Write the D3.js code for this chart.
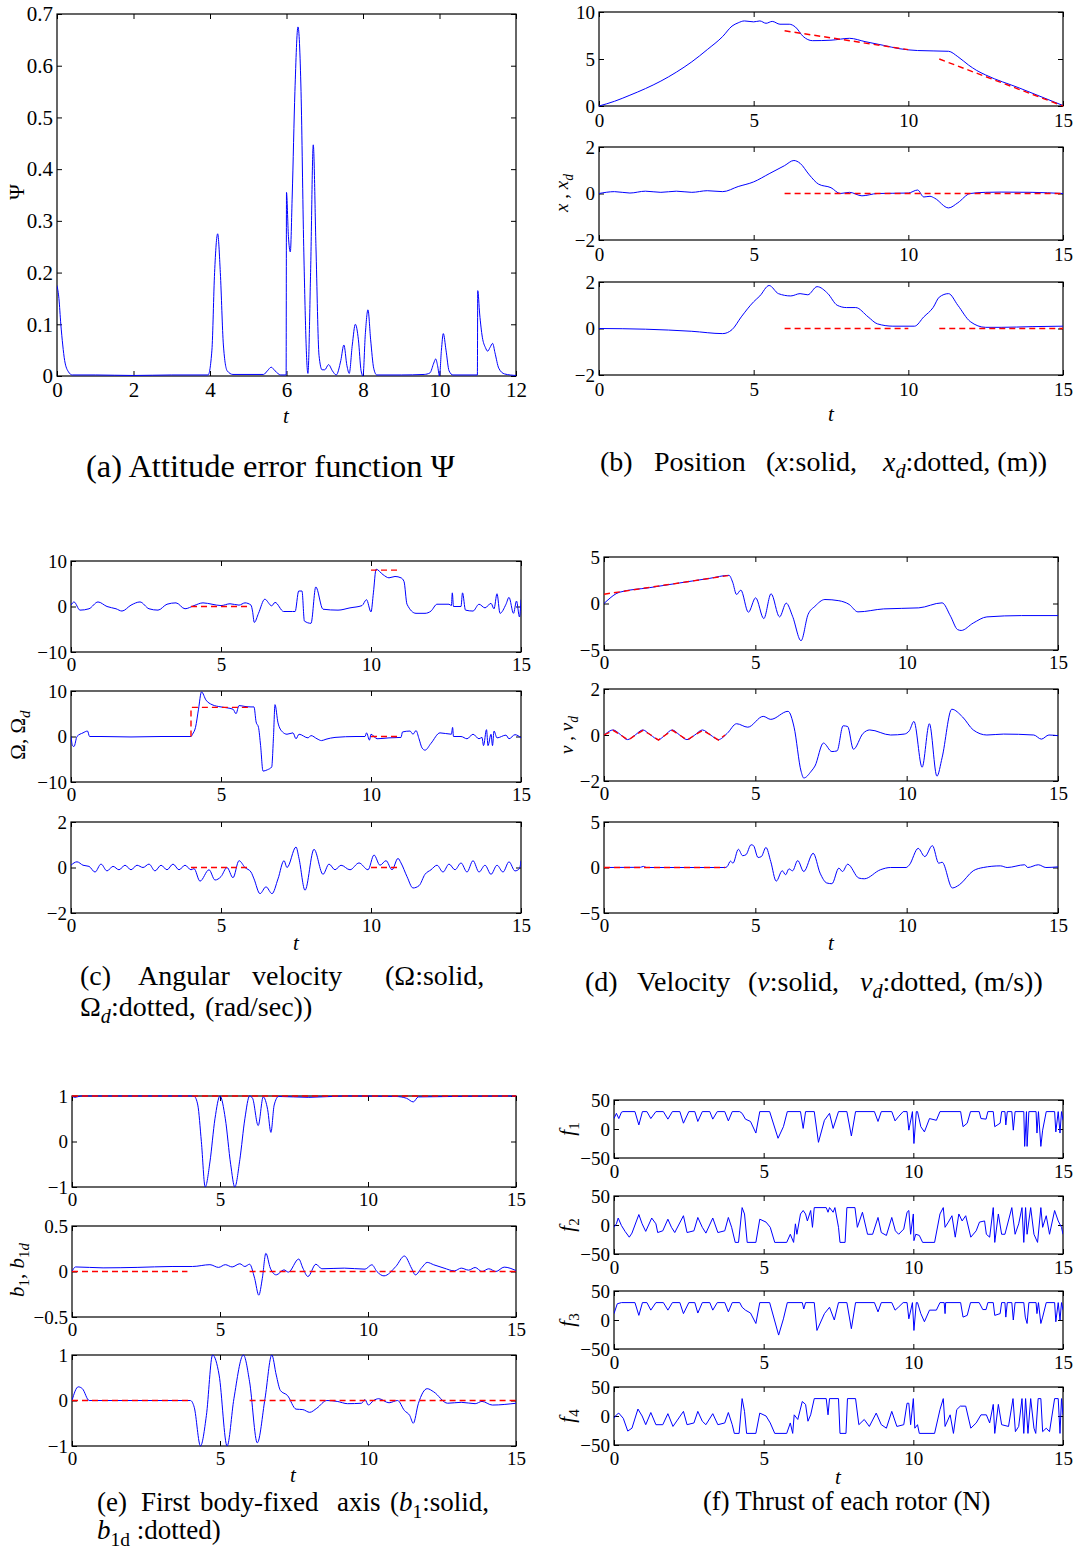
<!DOCTYPE html>
<html>
<head>
<meta charset="utf-8">
<script src="https://cdn.jsdelivr.net/npm/d3@7"></script>
<style>
  body { margin: 0; background: #fff; }
  svg { display: block; font-family: "Liberation Serif", "Times New Roman", serif; }
</style>
</head>
<body>
<script>
// ---------- tick labels ----------
const tTicks12 = [0, 2, 4, 6, 8, 10, 12];
const tTicks15 = [0, 5, 10, 15];
const psiTicks = [0, 0.1, 0.2, 0.3, 0.4, 0.5, 0.6, 0.7];
const posTicks = [0, 5, 10];
const unitTicks2 = [-2, 0, 2];
const omTicks = [-10, 0, 10];
const velTicks = [-5, 0, 5];
const oneTicks = [-1, 0, 1];
const halfTicks = [-0.5, 0, 0.5];
const thrustTicks = [-50, 0, 50];

// ---------- (a) attitude error ----------
const psi = [[0,0.175],[0.05,0.15],[0.1,0.1],[0.15,0.06],[0.2,0.03],[0.3,0.008],[0.4,0.002],[1,0.002],[2,0.001],[3,0.002],[3.95,0.002],[4.05,0.05],[4.12,0.2],[4.2,0.275],[4.27,0.2],[4.35,0.06],[4.45,0.01],[4.6,0.003],[5.4,0.003],[5.5,0.01],[5.6,0.017],[5.7,0.01],[5.85,0.002],[5.99,0.002],[6.0,0.355],[6.05,0.27],[6.1,0.24],[6.15,0.35],[6.22,0.55],[6.3,0.675],[6.38,0.55],[6.45,0.25],[6.56,0.005],[6.63,0.2],[6.7,0.447],[6.77,0.25],[6.85,0.04],[6.93,0.012],[7.0,0.012],[7.1,0.022],[7.2,0.01],[7.3,0.002],[7.42,0.03],[7.5,0.06],[7.58,0.02],[7.64,0.005],[7.72,0.06],[7.8,0.1],[7.88,0.07],[7.95,0.01],[8.0,0.0],[8.06,0.08],[8.13,0.128],[8.2,0.07],[8.28,0.015],[8.36,0.002],[9,0.002],[9.6,0.003],[9.75,0.006],[9.85,0.025],[9.9,0.033],[9.95,0.02],[10.0,0.0],[10.05,0.05],[10.1,0.082],[10.17,0.05],[10.25,0.01],[10.35,0.002],[10.99,0.002],[11.0,0.165],[11.05,0.12],[11.12,0.075],[11.2,0.055],[11.26,0.048],[11.32,0.055],[11.39,0.063],[11.45,0.045],[11.55,0.015],[11.7,0.004],[12,0.001]];

// ---------- (b) position ----------
const posX = [[0,0],[0.5,0.5],[1,1.15],[1.5,1.85],[2,2.65],[2.5,3.6],[3,4.7],[3.5,6.0],[4,7.4],[4.3,8.5],[4.5,8.85],[4.7,9.05],[5.0,8.95],[5.2,9.05],[5.4,8.8],[5.6,9.0],[5.85,8.7],[6.15,8.7],[6.35,8.4],[6.6,7.4],[6.9,6.95],[7.5,7.0],[8.1,7.2],[8.6,6.85],[9.2,6.45],[9.7,6.1],[10.3,5.9],[11.3,5.82],[11.6,5.25],[11.95,4.35],[12.2,3.8],[12.5,3.3],[13.6,1.9],[15,0.05]];
const posXdA = [[6,8],[10,6]];
const posXdB = [[11,5],[15,0]];
const posY = [[0,0],[0.5,0.08],[1,0.02],[1.5,0.1],[2,0.05],[2.5,0.1],[3,0.05],[3.5,0.12],[4,0.08],[4.5,0.3],[5,0.5],[5.5,0.85],[6,1.2],[6.3,1.42],[6.5,1.3],[6.8,0.8],[7.1,0.4],[7.5,0.25],[7.8,0.0],[8.1,0.05],[8.5,-0.1],[9,0.0],[10,0.02],[10.3,0.15],[10.5,-0.15],[10.7,-0.12],[10.85,-0.2],[11.3,-0.62],[11.6,-0.4],[12,0.0],[12.5,0.05],[13,0.06],[14,0.05],[15,0.0]];
const posYd = [[6,0],[15,0]];
const posZ = [[0,0],[1.5,-0.03],[3,-0.12],[4,-0.22],[4.3,-0.05],[4.6,0.5],[5,1.15],[5.2,1.4],[5.5,1.85],[5.8,1.5],[6.2,1.4],[6.5,1.5],[6.75,1.45],[7.05,1.8],[7.4,1.5],[7.7,1.0],[8.0,0.9],[8.3,0.9],[8.7,0.5],[9.0,0.2],[9.5,0.1],[10.2,0.1],[10.5,0.5],[10.8,0.9],[11.0,1.35],[11.3,1.5],[11.6,1.0],[12.0,0.3],[12.5,0.05],[13,0.05],[14,0.08],[15,0.1]];
const posZdA = [[6,0],[10,0]];
const posZdB = [[11,0],[15,0]];

// ---------- (c) angular velocity ----------
const om1 = [[0,0.3],[0.1,1],[0.3,-0.8],[0.6,-0.5],[0.9,1.0],[1.2,0],[1.5,-0.5],[1.7,-1.0],[2,0.3],[2.3,1.0],[2.6,-0.5],[2.9,-0.8],[3.2,0.5],[3.5,0.8],[3.8,-0.5],[4.1,0.2],[4.4,0.8],[4.7,0.5],[5,0.2],[5.3,0.6],[5.6,0.3],[5.8,0.8],[6.0,0.3],[6.05,-1],[6.11,-3.5],[6.25,-1.5],[6.46,1.6],[6.69,0.15],[6.8,0.9],[7.09,-1.1],[7.38,-1.1],[7.47,-1.1],[7.59,3.4],[7.7,3.4],[7.78,-3.2],[8.0,-3.7],[8.16,4.3],[8.4,-0.6],[8.9,-0.8],[9.3,-0.3],[9.7,0.2],[9.85,1.5],[10.0,-1.2],[10.08,3],[10.17,8.2],[10.4,7.0],[10.6,6.3],[10.8,6.6],[11.0,6.3],[11.1,5.5],[11.2,0.5],[11.5,-1.5],[11.8,-1.5],[12.0,-1.0],[12.2,0.5],[12.6,0.5],[12.68,0.2],[12.71,3],[12.75,0],[13,0],[13.05,3],[13.15,-0.8],[13.4,-1],[13.6,0.5],[13.8,-0.3],[14.0,0.7],[14.1,-0.5],[14.2,2.8],[14.3,-1.5],[14.5,0.5],[14.6,2],[14.75,-1.5],[14.85,1.2],[14.95,-2.3],[15,1.5]];
const om1dA = [[4,0],[6,0]];
const om1dB = [[10,8],[11,8]];
const om2 = [[0,0],[0.05,-2],[0.1,-2.2],[0.2,0],[0.4,0.8],[0.55,1.2],[0.62,0],[1,0],[2,-0.1],[3,0],[4,0],[4.05,0.5],[4.15,2],[4.25,6],[4.35,9.8],[4.5,8],[4.7,7],[5,6.5],[5.2,6.3],[5.4,6.0],[5.5,5.0],[5.6,6.8],[5.8,6.6],[6.0,6.5],[6.1,6.5],[6.17,3.2],[6.25,2],[6.32,-2],[6.4,-7.6],[6.55,-7.3],[6.69,-6.7],[6.75,0],[6.8,7.0],[6.9,3],[7.05,1],[7.2,0.5],[7.4,0.8],[7.5,-0.5],[7.6,0.5],[7.9,-0.3],[8.0,0.2],[8.2,-0.5],[8.35,-0.9],[8.5,-0.6],[8.8,-0.2],[9.5,0],[9.8,0],[9.85,0.8],[9.95,-0.8],[10,0.5],[10.2,-0.5],[10.6,-0.3],[11,-0.2],[11.05,1.0],[11.3,1.2],[11.4,0.5],[11.5,1.3],[11.6,-0.5],[11.7,-2.5],[11.8,-3],[12,-1.5],[12.3,0.8],[12.68,0.5],[12.72,2],[12.75,0],[13,0],[13.2,-0.5],[13.4,0.5],[13.6,-0.5],[13.7,-0.2],[13.75,-2],[13.85,1.5],[13.9,-2],[14,0.5],[14.05,-2],[14.1,1.2],[14.2,-0.3],[14.5,0.3],[14.6,-0.5],[14.8,0.4],[15,-0.3]];
const om2dA = [[4,0],[4,6.4],[6,6.4]];
const om2dB = [[10,0],[11,0]];
const om3 = [[0,0.1],[0.2,0.25],[0.4,0.1],[0.6,0.05],[0.8,-0.2],[1.0,0.15],[1.2,-0.15],[1.4,0.05],[1.6,-0.1],[1.8,0.1],[2.0,-0.1],[2.2,0.1],[2.4,0.0],[2.6,0.15],[2.8,-0.15],[3.0,0.1],[3.2,-0.1],[3.4,0.15],[3.6,-0.1],[3.8,0.1],[4.0,-0.1],[4.1,-0.05],[4.3,-0.6],[4.6,-0.1],[4.8,-0.55],[5.0,-0.4],[5.2,0.0],[5.4,-0.45],[5.6,0.3],[5.8,0.0],[6.0,-0.2],[6.1,-0.5],[6.3,-1.15],[6.5,-0.85],[6.7,-1.15],[6.9,-0.5],[7.1,0.3],[7.2,0.0],[7.5,0.9],[7.6,0.4],[7.8,-1.0],[8.1,0.8],[8.4,-0.3],[8.6,0.15],[8.8,-0.1],[9.0,0.1],[9.3,-0.1],[9.6,0.2],[9.9,-0.1],[10.1,0.55],[10.3,0.1],[10.5,0.3],[10.7,-0.1],[10.9,0.4],[11.0,0.2],[11.2,-0.4],[11.4,-0.9],[11.6,-0.8],[11.8,-0.3],[12.0,-0.1],[12.2,0.1],[12.4,-0.2],[12.6,0.15],[12.8,-0.1],[13.0,0.2],[13.2,-0.2],[13.4,0.3],[13.6,-0.2],[13.8,0.1],[14.0,-0.3],[14.2,0.1],[14.4,-0.2],[14.6,0.25],[14.8,-0.15],[14.95,-0.05],[15,0.3]];
const om3dA = [[4,0],[6,0]];
const om3dB = [[10,0],[11,0]];

// ---------- (d) velocity ----------
const vel1 = [[0,0],[0.1,0.3],[0.5,1.2],[1.5,1.7],[2.5,2.21],[3.5,2.71],[4.13,3.03],[4.25,2.3],[4.38,0.97],[4.52,1.44],[4.77,-0.94],[5.01,0.61],[5.28,-1.62],[5.52,1.05],[5.8,-1.44],[6.02,0.04],[6.23,-1.37],[6.51,-4.0],[6.74,-1.2],[6.97,-0.3],[7.3,0.43],[7.76,0.3],[8.1,-0.1],[8.39,-0.9],[9.24,-0.58],[10.4,-0.47],[11.17,0.07],[11.45,-1.37],[11.68,-2.8],[11.8,-2.9],[12.2,-2.1],[12.65,-1.44],[13.8,-1.3],[15,-1.3]];
const vel1d = [[0,1.0],[4.1,3.0]];
const vel2 = [[0,0],[0.05,0.05],[0.3,0.22],[0.55,0.01],[0.78,-0.2],[1.03,0],[1.28,0.22],[1.54,0],[1.8,-0.2],[2.02,0],[2.25,0.22],[2.5,0],[2.74,-0.2],[3.0,0],[3.25,0.22],[3.52,0],[3.78,-0.2],[4.07,0.07],[4.38,0.49],[4.75,0.34],[5.26,0.81],[5.51,0.68],[6.08,1.03],[6.28,0.34],[6.51,-1.57],[6.6,-1.87],[6.85,-1.57],[6.97,-1.35],[7.25,-0.35],[7.53,-0.72],[7.7,-0.69],[7.9,0.4],[8.05,0.37],[8.24,-0.62],[8.56,0.07],[8.78,0.22],[9.47,0],[9.92,0.04],[10.09,0.19],[10.24,0.59],[10.51,-1.4],[10.75,0.49],[11.0,-1.79],[11.17,-0.99],[11.49,1.12],[11.85,0.78],[12.2,0.22],[12.65,0],[13.2,0.04],[14.2,0.0],[14.45,-0.18],[14.7,0],[15,-0.03]];
const vel2d = [[0,0],[0.3,0.2],[0.55,0],[0.8,-0.22],[1.04,0],[1.29,0.2],[1.55,0],[1.8,-0.22],[2.03,0],[2.26,0.2],[2.5,0],[2.75,-0.22],[3.0,0],[3.26,0.2],[3.52,0],[3.78,-0.22],[4.0,0]];
const vel3 = [[0,0],[1.2,0.02],[1.3,0.12],[1.4,0.0],[4.0,0.0],[4.07,0.1],[4.18,0.7],[4.26,0.47],[4.44,2.0],[4.58,1.3],[4.69,1.4],[4.86,2.5],[4.94,2.4],[5.09,1.1],[5.2,1.2],[5.35,2.2],[5.51,0.65],[5.69,-1.5],[5.89,-0.36],[6.0,-0.8],[6.11,-0.15],[6.23,-0.36],[6.4,0.76],[6.6,-0.44],[6.91,1.56],[7.14,-0.62],[7.36,-1.7],[7.53,-1.78],[7.76,-0.07],[7.88,-0.44],[8.05,0.36],[8.42,-1.16],[8.6,-1.24],[9.13,-0.25],[9.47,0],[9.98,0],[10.09,0.29],[10.38,2.1],[10.6,1.2],[10.85,2.4],[11.06,0.47],[11.17,0.58],[11.51,-2.25],[11.74,-1.9],[12.2,-0.36],[12.53,0],[13.1,0.18],[13.32,0],[13.9,0.3],[14.0,0],[14.35,0.3],[14.6,0],[15,0.07]];
const vel3d = [[0,0],[4,0]];

// ---------- (e) first body-fixed axis ----------
const b1x = [[0,1],[0.1,0.97],[0.3,1],[4.0,1],[4.13,0.99],[4.25,0.8],[4.37,0.0],[4.5,-1.0],[4.66,-0.45],[4.83,0.5],[5.0,1.0],[5.18,0.5],[5.36,-0.5],[5.5,-1.0],[5.67,-0.4],[5.84,0.5],[6.0,1.0],[6.1,0.95],[6.29,0.35],[6.46,0.98],[6.61,0.7],[6.72,0.2],[6.83,0.8],[6.98,0.99],[8.0,0.97],[9.2,1],[10.94,0.99],[11.3,0.95],[11.53,0.87],[11.7,0.98],[15,1]];
const b1xd = [[0,1],[15,1]];
const b1y = [[0,0],[0.12,0.05],[1.05,0.04],[2.2,0.045],[3.38,0.055],[4.07,0.055],[4.66,0.075],[4.95,0.045],[5.18,0.075],[5.41,0.05],[5.67,0.085],[5.84,0.055],[6.0,0.08],[6.17,-0.075],[6.31,-0.26],[6.43,-0.075],[6.55,0.2],[6.7,0.037],[6.9,-0.037],[7.16,0.018],[7.31,-0.007],[7.66,0.137],[7.8,0.037],[7.97,-0.055],[8.24,0.08],[8.44,0.03],[9.2,0.037],[9.9,0.026],[10.13,0.074],[10.3,0],[10.54,-0.048],[10.94,0.055],[11.23,0.17],[11.47,0.037],[11.6,-0.037],[11.82,0.044],[12.0,0.1],[12.22,0.074],[12.57,0.037],[12.92,0.007],[13.15,0.037],[13.4,0.015],[13.62,0.044],[13.85,0],[14.08,0.03],[14.32,0],[14.6,0.048],[15,0.01]];
const b1ydA = [[0,0],[3.9,0]];
const b1ydB = [[6,0],[15,0]];
const b1z = [[0,0],[0.21,0.3],[0.35,0.26],[0.58,0],[4.0,0],[4.13,-0.15],[4.34,-1.0],[4.54,-0.33],[4.75,1.0],[4.97,0.56],[5.24,-1.0],[5.47,0.04],[5.79,1.0],[6.0,0.41],[6.26,-0.93],[6.52,0.04],[6.75,1.0],[6.9,0.56],[7.04,0.22],[7.28,0.11],[7.57,-0.19],[7.8,-0.2],[8.03,-0.26],[8.27,-0.17],[8.61,0],[8.96,-0.02],[9.31,-0.07],[9.78,-0.06],[9.9,0.02],[10.01,-0.1],[10.19,0],[10.36,0.04],[10.71,-0.05],[11.0,0],[11.23,-0.22],[11.41,-0.33],[11.53,-0.5],[11.7,-0.07],[12.0,0.26],[12.22,0.19],[12.69,-0.06],[13.15,-0.04],[13.62,-0.07],[13.85,-0.02],[14.2,-0.1],[15,-0.06]];
const b1zdA = [[0,0],[4,0]];
const b1zdB = [[6,0],[15,0]];

// ---------- (f) thrust ----------
const f1 = [[0,18],[0.08,27],[0.16,18],[0.25,29],[0.3,30],[0.7,30],[0.83,7],[0.95,30],[1.1,30],[1.23,18],[1.4,30],[1.65,30],[1.8,17],[1.95,30],[2.2,30],[2.32,10],[2.5,30],[2.7,30],[2.8,13],[2.95,30],[3.2,30],[3.3,17],[3.45,30],[3.7,30],[3.82,14],[3.95,30],[4.2,30],[4.28,27],[4.39,17],[4.56,13],[4.74,-7],[4.87,30],[5.2,30],[5.48,-16],[5.66,4],[5.79,30],[6.23,30],[6.32,1],[6.4,30],[6.69,30],[6.83,-23],[7.03,15],[7.2,27],[7.32,1],[7.5,30],[7.78,30],[7.93,-12],[8.07,30],[8.7,30],[8.82,13],[8.93,30],[9.28,30],[9.39,14],[9.5,21],[9.66,30],[9.79,30],[9.85,-2],[9.97,30],[10.02,-25],[10.1,30],[10.14,30],[10.25,4],[10.37,-5],[10.54,18],[10.77,15],[10.89,30],[11.58,30],[11.66,4],[11.8,10],[11.91,30],[12.2,30],[12.26,18],[12.43,17],[12.49,30],[12.67,30],[12.72,4],[12.9,10],[12.95,30],[13.06,30],[13.09,7],[13.14,30],[13.29,30],[13.34,-2],[13.4,30],[13.69,30],[13.72,-30],[13.78,30],[13.8,-30],[13.86,30],[14.1,30],[14.13,-7],[14.18,30],[14.26,-30],[14.32,-2],[14.44,30],[14.72,30],[14.76,-5],[14.84,30],[14.9,-7],[14.95,30],[15,15]];
const f2 = [[0,-4],[0.08,2],[0.14,12],[0.25,-1],[0.37,-11],[0.51,-21],[0.6,-14],[0.83,18],[0.94,2],[1.06,-11],[1.26,12],[1.4,2],[1.46,-13],[1.63,-10],[1.8,10],[1.92,-4],[2.03,-13],[2.32,16],[2.44,-13],[2.67,-10],[2.8,13],[2.95,-4],[3.07,-14],[3.3,12],[3.47,-13],[3.7,-10],[3.82,13],[3.93,-4],[4.05,-30],[4.16,-30],[4.28,30],[4.36,19],[4.45,-30],[4.74,-30],[4.87,10],[5.08,5],[5.22,-4],[5.37,-30],[5.77,-30],[5.89,-16],[6.0,-30],[6.06,2],[6.11,-16],[6.23,19],[6.32,25],[6.4,19],[6.46,7],[6.57,25],[6.63,-4],[6.69,30],[7.09,30],[7.15,22],[7.2,30],[7.32,22],[7.38,30],[7.5,-4],[7.55,-30],[7.72,-30],[7.78,30],[8.05,30],[8.13,-4],[8.3,22],[8.47,-16],[8.64,-16],[8.82,13],[8.93,-13],[9.1,-18],[9.28,13],[9.4,-10],[9.51,-16],[9.68,-7],[9.79,22],[9.85,25],[9.91,-16],[10.0,19],[10.02,-27],[10.08,-16],[10.2,-18],[10.31,-30],[10.71,-30],[10.89,19],[11.0,30],[11.06,-4],[11.17,5],[11.29,16],[11.4,-21],[11.52,19],[11.63,7],[11.75,16],[11.92,-21],[12.1,-10],[12.21,5],[12.38,7],[12.44,-16],[12.55,-21],[12.67,30],[12.72,-30],[12.84,19],[12.95,-16],[13.06,-16],[13.29,30],[13.4,-16],[13.52,2],[13.63,30],[13.69,-30],[13.75,30],[13.8,-16],[13.92,30],[14.03,-16],[14.15,-30],[14.26,30],[14.32,-4],[14.44,16],[14.55,-16],[14.72,25],[14.84,7],[14.95,-4],[15,-16]];
const f3 = [[0,11],[0.11,28],[0.25,30],[0.7,30],[0.83,8],[0.95,30],[1.1,30],[1.23,17],[1.4,30],[1.65,30],[1.8,17],[1.95,30],[2.2,30],[2.32,11],[2.5,30],[2.7,30],[2.8,12],[2.95,30],[3.2,30],[3.3,17],[3.45,30],[3.7,30],[3.82,14],[3.95,30],[4.2,30],[4.28,22],[4.39,17],[4.56,12],[4.74,-6],[4.87,30],[5.2,30],[5.5,-26],[5.66,2],[5.79,30],[6.29,30],[6.34,19],[6.4,30],[6.69,30],[6.78,-18],[7.03,11],[7.2,22],[7.36,0],[7.5,30],[7.78,30],[7.93,-15],[8.07,30],[8.7,30],[8.82,14],[8.93,30],[9.28,30],[9.39,17],[9.5,22],[9.66,30],[9.79,30],[9.85,2],[9.97,30],[10.02,-18],[10.1,30],[10.14,30],[10.25,11],[10.37,-3],[10.54,17],[10.77,17],[10.89,30],[11.03,30],[11.06,11],[11.08,30],[11.58,30],[11.66,5],[11.8,8],[11.91,30],[12.2,30],[12.32,18],[12.43,18],[12.49,30],[12.67,30],[12.72,8],[12.9,11],[12.95,30],[13.06,30],[13.09,5],[13.14,30],[13.29,30],[13.34,0],[13.4,30],[13.69,30],[13.74,5],[13.8,-6],[13.86,30],[14.1,30],[14.13,11],[14.18,30],[14.26,-6],[14.32,5],[14.44,30],[14.72,30],[14.76,-3],[14.84,30],[14.9,0],[14.95,30],[15,17]];
const f4 = [[0,-4],[0.08,2],[0.16,5],[0.31,-4],[0.46,-26],[0.6,-21],[0.8,12],[0.94,0],[1.06,-15],[1.23,6],[1.4,-15],[1.63,-15],[1.8,4],[1.97,-18],[2.32,8],[2.44,-15],[2.67,-12],[2.8,8],[2.95,-9],[3.07,-15],[3.3,4],[3.47,-15],[3.7,-12],[3.82,6],[3.95,-15],[4.02,-30],[4.18,-30],[4.28,30],[4.36,8],[4.43,-30],[4.74,-30],[4.87,5],[5.08,0],[5.22,-12],[5.37,-30],[5.77,-30],[5.89,-12],[5.97,-30],[6.02,2],[6.14,-6],[6.29,25],[6.4,20],[6.48,-9],[6.57,2],[6.69,30],[7.09,30],[7.15,2],[7.2,30],[7.5,30],[7.55,-30],[7.75,-30],[7.8,30],[8.07,30],[8.18,-15],[8.36,-6],[8.53,-18],[8.76,5],[8.93,-15],[9.1,-21],[9.28,8],[9.45,-18],[9.68,-15],[9.79,22],[9.85,22],[9.91,-15],[10.0,30],[10.05,-21],[10.14,-15],[10.2,-30],[10.71,-30],[10.89,11],[11.0,30],[11.06,-18],[11.23,2],[11.34,-30],[11.45,11],[11.57,17],[11.75,17],[11.92,-21],[12.1,-12],[12.26,2],[12.44,2],[12.55,-12],[12.67,20],[12.72,-30],[12.84,20],[12.95,-15],[13.18,-18],[13.33,30],[13.41,-27],[13.52,-18],[13.63,30],[13.69,-30],[13.75,30],[13.83,-30],[13.92,30],[14.03,-21],[14.09,-30],[14.17,30],[14.26,30],[14.32,-27],[14.44,-21],[14.55,-27],[14.72,30],[14.84,30],[14.9,-30],[14.95,30],[15,2]];

// ---------- drawing ----------
const svg = d3.select("body").append("svg").attr("width", 1078).attr("height", 1549);
const BLUE = "#0000ff", RED = "#ff0000";
let clipCount = 0;

function fmt(d) { return d < 0 ? "\u2212" + Math.abs(d) : String(d); }

// rich text: parts = [[text, style]], style "" roman, "i" italic, "s"/"si" subscript
function rich(textSel, parts, fs) {
  let inSub = false;
  parts.forEach(([t, st]) => {
    const ts = textSel.append("tspan").text(t);
    const sub = st.includes("s");
    if (st.includes("i")) ts.attr("font-style", "italic");
    if (sub) ts.attr("font-size", fs * 0.72);
    if (sub && !inSub) ts.attr("dy", fs * 0.25);
    if (!sub && inSub) ts.attr("dy", -fs * 0.25);
    inSub = sub;
  });
  return textSel;
}

function subplot(o) {
  const fs = o.fs || 19;
  const x = d3.scaleLinear().domain(o.xDomain).range([o.left, o.right]);
  const y = d3.scaleLinear().domain(o.yDomain).range([o.bottom, o.top]);
  const g = svg.append("g");

  const styleAxis = s => {
    s.select(".domain").remove();
    s.attr("font-family", null).attr("font-size", fs);
    s.selectAll("line").attr("stroke", "#000");
    s.selectAll("text").attr("fill", "#000");
  };

  g.append("g").attr("transform", `translate(0,${o.bottom})`)
    .call(d3.axisBottom(x).tickValues(o.xTicks).tickSizeInner(-5).tickSizeOuter(0).tickPadding(o.xPad).tickFormat(fmt))
    .call(styleAxis);
  g.append("g").attr("transform", `translate(0,${o.top})`)
    .call(d3.axisTop(x).tickValues(o.xTicks).tickSizeInner(-5).tickSizeOuter(0).tickFormat(""))
    .call(styleAxis);
  g.append("g").attr("transform", `translate(${o.left},0)`)
    .call(d3.axisLeft(y).tickValues(o.yTicks).tickSizeInner(-5).tickSizeOuter(0).tickPadding(4).tickFormat(fmt))
    .call(styleAxis);
  g.append("g").attr("transform", `translate(${o.right},0)`)
    .call(d3.axisRight(y).tickValues(o.yTicks).tickSizeInner(-5).tickSizeOuter(0).tickFormat(""))
    .call(styleAxis);

  g.append("rect")
    .attr("x", o.left).attr("y", o.top)
    .attr("width", o.right - o.left).attr("height", o.bottom - o.top)
    .attr("fill", "none").attr("stroke", "#000").attr("stroke-width", 1.2);

  const id = "clip" + (clipCount++);
  g.append("clipPath").attr("id", id).append("rect")
    .attr("x", o.left).attr("y", o.top - 1)
    .attr("width", o.right - o.left).attr("height", o.bottom - o.top + 2);

  const lines = g.append("g").attr("clip-path", `url(#${id})`);
  (o.solid || []).forEach(d => {
    lines.append("path").datum(d)
      .attr("d", d3.line().x(p => x(p[0])).y(p => y(p[1])).curve(o.curve || d3.curveMonotoneX))
      .attr("fill", "none").attr("stroke", BLUE).attr("stroke-width", 1);
  });
  // desired (dashed) curves go over the actual ones
  (o.dashed || []).forEach(d => {
    lines.append("path").datum(d)
      .attr("d", d3.line().x(p => x(p[0])).y(p => y(p[1])))
      .attr("fill", "none").attr("stroke", RED).attr("stroke-width", 1.4)
      .attr("stroke-dasharray", "6,4");
  });
}

function yLabel(x, y, parts, fs) {
  rich(svg.append("text").attr("transform", `translate(${x},${y}) rotate(-90)`)
    .attr("text-anchor", "middle").attr("font-size", fs), parts, fs);
}
function tLabel(x, y) {
  svg.append("text").attr("x", x).attr("y", y).attr("text-anchor", "middle")
    .attr("font-size", 21).attr("font-style", "italic").text("t");
}
// segs: [x, parts]
function caption(y, segs, fs) {
  segs.forEach(([x, parts]) => rich(svg.append("text").attr("x", x).attr("y", y).attr("font-size", fs), parts, fs));
}

// (a)
subplot({left: 57, right: 516, top: 14, bottom: 376, xDomain: [0, 12], yDomain: [0, 0.7],
  xTicks: tTicks12, yTicks: psiTicks, fs: 21, xPad: 6, solid: [psi]});
yLabel(24, 192, [["\u03a8", ""]], 21);
tLabel(286, 423);
caption(477, [[86, [["(a)  Attitude error function \u03a8", ""]]]], 32.5);

// (b)
const bBase = {left: 599, right: 1063, xDomain: [0, 15], xTicks: tTicks15, xPad: 8};
subplot({...bBase, top: 12, bottom: 106, yDomain: [0, 10], yTicks: posTicks, solid: [posX], dashed: [posXdA, posXdB]});
subplot({...bBase, top: 147, bottom: 240, yDomain: [-2, 2], yTicks: unitTicks2, solid: [posY], dashed: [posYd]});
subplot({...bBase, top: 282, bottom: 375, yDomain: [-2, 2], yTicks: unitTicks2, solid: [posZ], dashed: [posZdA, posZdB]});
yLabel(568, 193, [["x", "i"], [" , ", ""], ["x", "i"], ["d", "si"]], 19);
tLabel(831, 421);
caption(471, [[600, [["(b)", ""]]], [654, [["Position", ""]]], [766, [["(", ""], ["x", "i"], [":solid,", ""]]],
  [883, [["x", "i"], ["d", "si"], [":dotted, (m))", ""]]]], 28);

// (c)
const cBase = {left: 71, right: 521, xDomain: [0, 15], xTicks: tTicks15, xPad: 6};
subplot({...cBase, top: 561, bottom: 652, yDomain: [-10, 10], yTicks: omTicks, solid: [om1], dashed: [om1dA, om1dB]});
subplot({...cBase, top: 691, bottom: 782, yDomain: [-10, 10], yTicks: omTicks, solid: [om2], dashed: [om2dA, om2dB]});
subplot({...cBase, top: 822, bottom: 913, yDomain: [-2, 2], yTicks: unitTicks2, solid: [om3], dashed: [om3dA, om3dB]});
yLabel(25, 735, [["\u03a9, \u03a9", ""], ["d", "si"]], 21);
tLabel(296, 950);
caption(985, [[80, [["(c)", ""]]], [138, [["Angular", ""]]], [252, [["velocity", ""]]], [385, [["(\u03a9:solid,", ""]]]], 28);
caption(1016, [[80, [["\u03a9", ""], ["d", "si"], [":dotted,", ""]]], [205, [["(rad/sec))", ""]]]], 28);

// (d)
const dBase = {left: 604, right: 1058, xDomain: [0, 15], xTicks: tTicks15, xPad: 6};
subplot({...dBase, top: 557, bottom: 650, yDomain: [-5, 5], yTicks: velTicks, solid: [vel1], dashed: [vel1d]});
subplot({...dBase, top: 689, bottom: 781, yDomain: [-2, 2], yTicks: unitTicks2, solid: [vel2], dashed: [vel2d]});
subplot({...dBase, top: 822, bottom: 913, yDomain: [-5, 5], yTicks: velTicks, solid: [vel3], dashed: [vel3d]});
yLabel(573, 735, [["v", "i"], [" , ", ""], ["v", "i"], ["d", "si"]], 19);
tLabel(831, 950);
caption(991, [[585, [["(d)", ""]]], [637, [["Velocity", ""]]], [748, [["(", ""], ["v", "i"], [":solid,", ""]]],
  [860, [["v", "i"], ["d", "si"], [":dotted, (m/s))", ""]]]], 28);

// (e)
const eBase = {left: 72, right: 516, xDomain: [0, 15], xTicks: tTicks15, xPad: 6};
subplot({...eBase, top: 1096, bottom: 1187, yDomain: [-1, 1], yTicks: oneTicks, solid: [b1x], dashed: [b1xd]});
subplot({...eBase, top: 1226, bottom: 1317, yDomain: [-0.5, 0.5], yTicks: halfTicks, solid: [b1y], dashed: [b1ydA, b1ydB]});
subplot({...eBase, top: 1355, bottom: 1446, yDomain: [-1, 1], yTicks: oneTicks, solid: [b1z], dashed: [b1zdA, b1zdB]});
yLabel(24, 1270, [["b", "i"], ["1", "s"], [", ", ""], ["b", "i"], ["1", "s"], ["d", "si"]], 21);
tLabel(293, 1482);
caption(1511, [[97, [["(e)", ""]]], [141, [["First", ""]]], [200, [["body-fixed", ""]]], [337, [["axis", ""]]],
  [390, [["(", ""], ["b", "i"], ["1", "s"], [":solid,", ""]]]], 27);
caption(1539, [[97, [["b", "i"], ["1d", "s"], [" :dotted)", ""]]]], 27);

// (f)
const fBase = {left: 614, right: 1063, xDomain: [0, 15], xTicks: tTicks15, xPad: 7, yDomain: [-50, 50], yTicks: thrustTicks, curve: d3.curveLinear};
const fBoxes = [[1100, 1158], [1196, 1254], [1291, 1349], [1387, 1445]];
[f1, f2, f3, f4].forEach((f, i) => {
  subplot({...fBase, top: fBoxes[i][0], bottom: fBoxes[i][1], solid: [f]});
  yLabel(574, (fBoxes[i][0] + fBoxes[i][1]) / 2, [["f", "i"], [String(i + 1), "s"]], 21);
});
tLabel(838, 1484);
caption(1510, [[703, [["(f)  Thrust of each rotor (N)", ""]]]], 26.5);
</script>
</body>
</html>
